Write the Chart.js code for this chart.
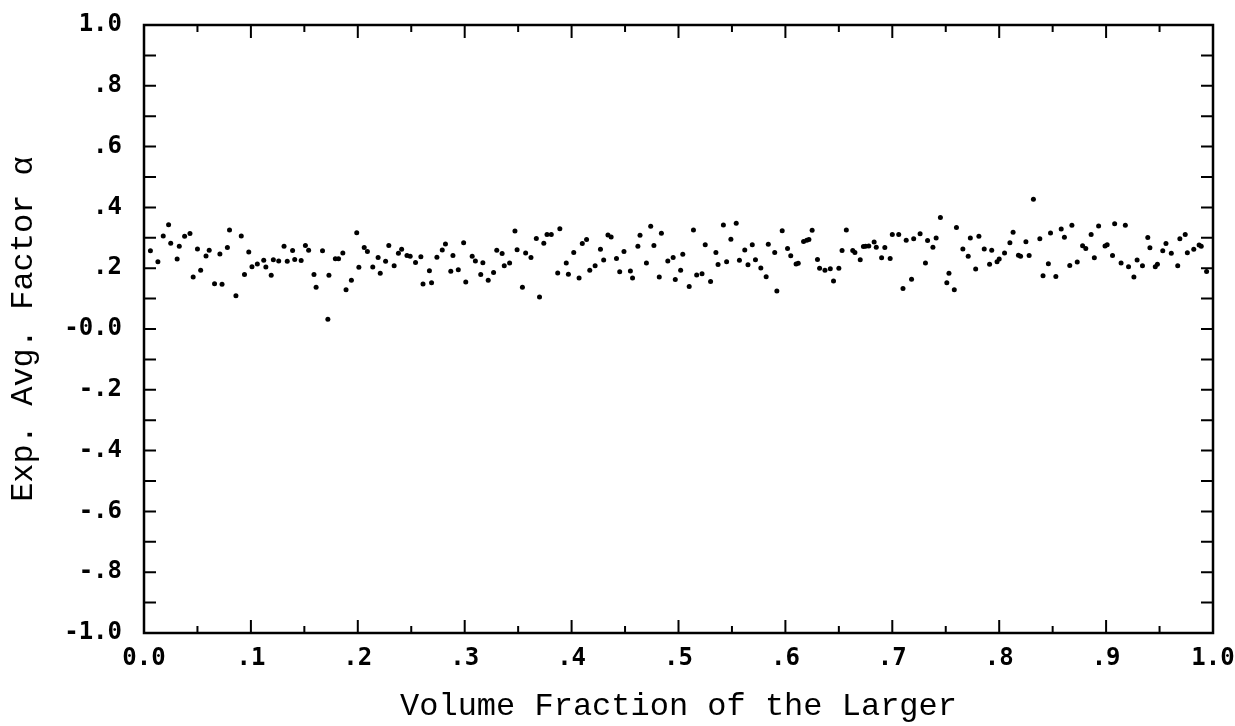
<!DOCTYPE html>
<html>
<head>
<meta charset="utf-8">
<script src="https://cdn.jsdelivr.net/npm/chart.js@4"></script>
<style>
  html, body { margin: 0; padding: 0; background: #fff; }
  #wrap { width: 1235px; height: 726px; }
</style>
</head>
<body>
<div id="wrap"><canvas id="chart" width="1235" height="726"></canvas></div>
<script>
// Volume fraction of the larger (x) and exp. avg. factor (y)
const volumeFraction = [
  0.006, 0.013, 0.018, 0.023, 0.025, 0.031, 0.033, 0.038, 0.043, 0.046,
  0.050, 0.053, 0.058, 0.061, 0.066, 0.071, 0.073, 0.078, 0.080, 0.086,
  0.091, 0.094, 0.098, 0.101, 0.106, 0.112, 0.114, 0.119, 0.121, 0.126,
  0.131, 0.134, 0.139, 0.141, 0.147, 0.151, 0.154, 0.159, 0.161, 0.167,
  0.172, 0.173, 0.179, 0.182, 0.186, 0.189, 0.194, 0.199, 0.201, 0.206,
  0.209, 0.214, 0.219, 0.221, 0.226, 0.229, 0.234, 0.238, 0.241, 0.246,
  0.249, 0.254, 0.259, 0.261, 0.267, 0.269, 0.274, 0.279, 0.282, 0.287,
  0.289, 0.294, 0.299, 0.301, 0.307, 0.310, 0.315, 0.317, 0.322, 0.327,
  0.330, 0.335, 0.337, 0.342, 0.347, 0.349, 0.354, 0.357, 0.362, 0.367,
  0.370, 0.374, 0.377, 0.381, 0.387, 0.389, 0.395, 0.397, 0.402, 0.407,
  0.410, 0.414, 0.417, 0.422, 0.427, 0.430, 0.434, 0.437, 0.442, 0.445,
  0.449, 0.455, 0.457, 0.462, 0.464, 0.470, 0.474, 0.477, 0.482, 0.484,
  0.490, 0.495, 0.497, 0.502, 0.504, 0.510, 0.514, 0.517, 0.522, 0.525,
  0.530, 0.535, 0.537, 0.542, 0.545, 0.549, 0.554, 0.557, 0.562, 0.565,
  0.569, 0.572, 0.577, 0.582, 0.584, 0.590, 0.592, 0.597, 0.602, 0.605,
  0.610, 0.612, 0.617, 0.620, 0.622, 0.625, 0.630, 0.632, 0.637, 0.642,
  0.645, 0.650, 0.653, 0.657, 0.663, 0.665, 0.670, 0.673, 0.675, 0.678,
  0.683, 0.685, 0.690, 0.693, 0.698, 0.700, 0.706, 0.710, 0.713, 0.718,
  0.720, 0.726, 0.731, 0.733, 0.738, 0.741, 0.745, 0.751, 0.753, 0.758,
  0.760, 0.766, 0.771, 0.773, 0.778, 0.781, 0.786, 0.791, 0.793, 0.798,
  0.800, 0.805, 0.810, 0.813, 0.818, 0.820, 0.825, 0.828, 0.832, 0.838,
  0.841, 0.846, 0.848, 0.853, 0.858, 0.861, 0.866, 0.868, 0.873, 0.878,
  0.881, 0.886, 0.889, 0.893, 0.899, 0.901, 0.906, 0.908, 0.914, 0.918,
  0.921, 0.926, 0.929, 0.934, 0.939, 0.941, 0.946, 0.948, 0.953, 0.956,
  0.961, 0.967, 0.969, 0.974, 0.976, 0.982, 0.987, 0.989, 0.994
];
const avgFactor = [
  0.257, 0.221, 0.306, 0.343, 0.282, 0.230, 0.272, 0.305, 0.314, 0.171,
  0.263, 0.193, 0.240, 0.259, 0.149, 0.247, 0.147, 0.268, 0.326, 0.109,
  0.306, 0.179, 0.253, 0.205, 0.214, 0.226, 0.204, 0.177, 0.228, 0.224,
  0.272, 0.223, 0.258, 0.229, 0.225, 0.275, 0.259, 0.179, 0.137, 0.257,
  0.032, 0.177, 0.231, 0.231, 0.250, 0.129, 0.160, 0.317, 0.203, 0.268,
  0.255, 0.204, 0.235, 0.183, 0.223, 0.275, 0.208, 0.249, 0.262, 0.242,
  0.239, 0.219, 0.238, 0.148, 0.192, 0.152, 0.236, 0.260, 0.280, 0.190,
  0.242, 0.195, 0.284, 0.155, 0.239, 0.224, 0.179, 0.218, 0.160, 0.186,
  0.259, 0.248, 0.208, 0.217, 0.322, 0.261, 0.137, 0.250, 0.235, 0.298,
  0.105, 0.282, 0.311, 0.311, 0.184, 0.330, 0.217, 0.180, 0.252, 0.168,
  0.281, 0.294, 0.193, 0.208, 0.262, 0.227, 0.309, 0.303, 0.232, 0.188,
  0.255, 0.191, 0.168, 0.272, 0.308, 0.217, 0.338, 0.275, 0.171, 0.315,
  0.224, 0.235, 0.163, 0.193, 0.246, 0.140, 0.326, 0.178, 0.182, 0.277,
  0.156, 0.252, 0.212, 0.342, 0.221, 0.295, 0.348, 0.226, 0.260, 0.211,
  0.277, 0.228, 0.201, 0.172, 0.279, 0.252, 0.125, 0.323, 0.265, 0.241,
  0.214, 0.216, 0.288, 0.292, 0.294, 0.325, 0.229, 0.200, 0.193, 0.198,
  0.158, 0.200, 0.258, 0.326, 0.258, 0.252, 0.228, 0.271, 0.272, 0.273,
  0.286, 0.269, 0.234, 0.268, 0.232, 0.311, 0.311, 0.133, 0.292, 0.164,
  0.297, 0.313, 0.217, 0.291, 0.269, 0.299, 0.367, 0.152, 0.183, 0.129,
  0.334, 0.263, 0.239, 0.299, 0.197, 0.305, 0.263, 0.213, 0.259, 0.221,
  0.230, 0.250, 0.284, 0.318, 0.243, 0.239, 0.287, 0.242, 0.427, 0.297,
  0.175, 0.215, 0.316, 0.173, 0.329, 0.302, 0.209, 0.341, 0.220, 0.274,
  0.265, 0.311, 0.234, 0.339, 0.273, 0.277, 0.242, 0.346, 0.217, 0.341,
  0.205, 0.171, 0.227, 0.208, 0.301, 0.267, 0.205, 0.213, 0.257, 0.281,
  0.249, 0.208, 0.297, 0.311, 0.251, 0.262, 0.276, 0.272, 0.189
];
const xTickLabels = ["0.0", ".1", ".2", ".3", ".4", ".5", ".6", ".7", ".8", ".9", "1.0"];
const yTickLabels = ["-1.0", "-.8", "-.6", "-.4", "-.2", "-0.0", ".2", ".4", ".6", ".8", "1.0"];

// Frame with inward ticks on all four sides
const frameTicks = {
  id: "frameTicks",
  afterDatasetsDraw(chart) {
    const { ctx, chartArea: a, scales: { x, y } } = chart;
    ctx.save();
    ctx.strokeStyle = "#000";
    ctx.lineWidth = 2.5;
    ctx.strokeRect(a.left, a.top, a.right - a.left, a.bottom - a.top);
    ctx.lineWidth = 2;
    ctx.beginPath();
    for (let i = 0; i <= 20; i++) {
      const px = x.getPixelForValue(i * 0.05);
      const len = i % 2 === 0 ? 13 : 7;
      ctx.moveTo(px, a.bottom);
      ctx.lineTo(px, a.bottom - len);
      ctx.moveTo(px, a.top);
      ctx.lineTo(px, a.top + len);
    }
    for (let i = 0; i <= 20; i++) {
      const py = y.getPixelForValue(-1 + i * 0.1);
      ctx.moveTo(a.left, py);
      ctx.lineTo(a.left + 12, py);
      ctx.moveTo(a.right, py);
      ctx.lineTo(a.right - 12, py);
    }
    ctx.stroke();
    ctx.restore();
  },
};

const tickFont = { family: "DejaVu Sans Mono", weight: "bold", size: 24 };
const titleFont = { family: "Liberation Mono", size: 32 };

new Chart(document.getElementById("chart").getContext("2d"), {
  type: "scatter",
  data: {
    datasets: [
      {
        data: volumeFraction.map((v, i) => ({ x: v, y: avgFactor[i] })),
        backgroundColor: "#000",
        borderWidth: 0,
        pointRadius: 2.5,
      },
    ],
  },
  options: {
    responsive: false,
    animation: false,
    layout: { padding: { top: 25, right: 22, left: 0, bottom: 0 } },
    plugins: { legend: { display: false }, tooltip: { enabled: false } },
    scales: {
      x: {
        type: "linear",
        min: 0,
        max: 1,
        grid: { display: false, drawTicks: false },
        border: { display: false },
        ticks: {
          stepSize: 0.1,
          color: "#000",
          font: tickFont,
          padding: 11,
          maxRotation: 0,
          callback: (v, i) => xTickLabels[i],
        },
        title: {
          display: true,
          text: "Volume Fraction of the Larger",
          color: "#000",
          font: titleFont,
          padding: { top: 0, bottom: 0 },
        },
        afterFit: (scale) => {
          scale.height = 93;
          scale.paddingLeft = 0;
          scale.paddingRight = 0;
        },
      },
      y: {
        min: -1,
        max: 1,
        grid: { display: false, drawTicks: false },
        border: { display: false },
        ticks: {
          stepSize: 0.2,
          color: "#000",
          font: tickFont,
          padding: 22,
          callback: (v, i) => yTickLabels[i],
        },
        title: {
          display: true,
          text: "Exp. Avg. Factor α",
          color: "#000",
          font: titleFont,
          padding: { top: 4, bottom: 0 },
        },
        afterFit: (scale) => {
          scale.width = 144;
          scale.paddingTop = 0;
          scale.paddingBottom = 0;
        },
      },
    },
  },
  plugins: [frameTicks],
});
</script>
</body>
</html>
